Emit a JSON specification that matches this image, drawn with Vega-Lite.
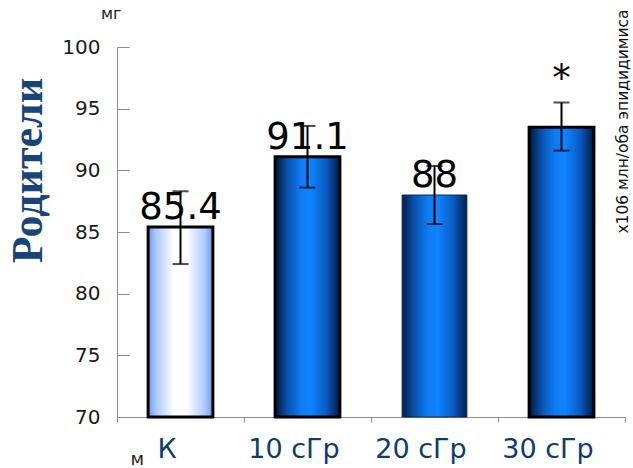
{
  "$schema": "https://vega.github.io/schema/vega-lite/v6.json",
  "autosize": "none",
  "width": 508,
  "height": 370,
  "padding": {"left": 117, "top": 47, "right": 8, "bottom": 51},
  "background": "white",
  "title": {"text": "мг", "anchor": "start", "frame": "group", "dx": -16, "fontSize": 16, "font": "DejaVu Sans", "fontWeight": "normal", "color": "#222222", "offset": 0, "baseline": "alphabetic", "dy": 26},
  "data": {"values": [
    {"g": "К", "v": 85.4, "lo": 82.4, "hi": 88.3, "lab": "85.4"},
    {"g": "10 сГр", "v": 91.1, "lo": 88.6, "hi": 93.6, "lab": "91.1"},
    {"g": "20 сГр", "v": 88.0, "lo": 85.65, "hi": 90.35, "lab": "88"},
    {"g": "30 сГр", "v": 93.5, "lo": 91.6, "hi": 95.5, "lab": "*"}
  ]},
  "encoding": {
    "x": {"field": "g", "type": "nominal", "sort": ["К", "10 сГр", "20 сГр", "30 сГр"],
      "scale": {"paddingInner": 0, "paddingOuter": 0},
      "axis": {"labelAngle": 0, "tickBand": "extent", "tickSize": 5, "labelPadding": 14, "labelOffset": -14,
        "labelFontSize": 27, "labelFont": "DejaVu Sans", "labelColor": "#0d3c6e",
        "domainColor": "#8c8c8c", "tickColor": "#8c8c8c",
        "title": "м", "titleFontSize": 18, "titleFont": "DejaVu Sans", "titleFontWeight": "normal", "titleColor": "#222222",
        "titleX": 13, "titleY": 47, "titleAlign": "left", "titleBaseline": "alphabetic"}}
  },
  "layer": [
    {
      "transform": [{"filter": "datum.g === 'К'"}],
      "mark": {"type": "bar", "width": {"band": 0.51}, "stroke": "black", "strokeWidth": 3,
        "fill": {"gradient": "linear", "x1": 0, "y1": 0, "x2": 1, "y2": 0, "stops": [
          {"offset": 0, "color": "#6f9ae8"}, {"offset": 0.12, "color": "#a9c8ff"}, {"offset": 0.4, "color": "#ffffff"},
          {"offset": 0.6, "color": "#ffffff"}, {"offset": 0.88, "color": "#a9c8ff"}, {"offset": 1, "color": "#6f9ae8"}]}},
      "encoding": {
        "y": {"field": "v", "type": "quantitative", "scale": {"domain": [70, 100], "nice": false, "zero": false},
          "axis": {"values": [70, 75, 80, 85, 90, 95, 100], "grid": false, "ticks": false, "tickSize": 0, "labelPadding": 17,
            "labelFontSize": 20, "labelFont": "DejaVu Sans", "labelColor": "#1a1a1a", "labelBaseline": "middle",
            "domainColor": "#8c8c8c",
            "title": "Родители", "titleFont": "Liberation Serif", "titleFontSize": 44, "titleFontWeight": "bold", "titleColor": "#17457a",
            "titleAngle": 270, "titleX": -76, "titleY": 123, "titleAlign": "center", "titleBaseline": "alphabetic"}},
        "y2": {"datum": 70}
      }
    },
    {
      "transform": [{"filter": "datum.g === '10 сГр' || datum.g === '30 сГр'"}],
      "mark": {"type": "bar", "width": {"band": 0.51}, "stroke": "black", "strokeWidth": 3,
        "fill": {"gradient": "linear", "x1": 0, "y1": 0, "x2": 1, "y2": 0, "stops": [
          {"offset": 0, "color": "#001634"}, {"offset": 0.18, "color": "#0a4fa8"}, {"offset": 0.4, "color": "#0d7cf5"},
          {"offset": 0.55, "color": "#0e84ff"}, {"offset": 0.78, "color": "#0a5cc4"}, {"offset": 1, "color": "#001a40"}]}},
      "encoding": {
        "y": {"field": "v", "type": "quantitative", "axis": null},
        "y2": {"datum": 70}
      }
    },
    {
      "transform": [{"filter": "datum.g === '20 сГр'"}],
      "mark": {"type": "bar", "width": {"band": 0.51}, "stroke": "#0b2d5c", "strokeWidth": 1,
        "fill": {"gradient": "linear", "x1": 0, "y1": 0, "x2": 1, "y2": 0, "stops": [
          {"offset": 0, "color": "#001e4a"}, {"offset": 0.18, "color": "#0a4fa8"}, {"offset": 0.4, "color": "#0d7cf5"},
          {"offset": 0.55, "color": "#0e84ff"}, {"offset": 0.78, "color": "#0a5cc4"}, {"offset": 1, "color": "#00204d"}]}},
      "encoding": {
        "y": {"field": "v", "type": "quantitative", "axis": null},
        "y2": {"datum": 70}
      }
    },
    {
      "mark": {"type": "rule", "color": "black", "strokeWidth": 2},
      "encoding": {
        "y": {"field": "lo", "type": "quantitative",
          "axis": {"orient": "right", "offset": -508, "values": [70, 75, 80, 85, 90, 95, 100], "labels": false, "ticks": true, "tickSize": 12,
            "tickColor": "#8c8c8c", "domain": false, "grid": false,
            "title": "x106 млн/оба эпидидимиса", "titleFont": "DejaVu Sans", "titleFontSize": 15.5, "titleFontWeight": "normal",
            "titleColor": "#111111", "titleAngle": 270, "titleX": 510, "titleY": 74, "titleAlign": "center", "titleBaseline": "alphabetic"}},
        "y2": {"field": "hi"}
      }
    },
    {
      "mark": {"type": "tick", "color": "black", "size": 16, "thickness": 2, "orient": "horizontal"},
      "encoding": {"y": {"field": "lo", "type": "quantitative", "axis": null}}
    },
    {
      "mark": {"type": "tick", "color": "black", "size": 16, "thickness": 2, "orient": "horizontal"},
      "encoding": {"y": {"field": "hi", "type": "quantitative", "axis": null}}
    },
    {
      "transform": [{"filter": "datum.lab !== '*'"}],
      "mark": {"type": "text", "font": "DejaVu Sans", "fontSize": 37, "color": "black", "baseline": "alphabetic", "align": "center", "dy": -8},
      "encoding": {"y": {"field": "v", "type": "quantitative", "axis": null}, "text": {"field": "lab"}}
    },
    {
      "transform": [{"filter": "datum.lab === '*'"}],
      "mark": {"type": "text", "font": "DejaVu Sans", "fontSize": 37, "color": "black", "baseline": "alphabetic", "align": "center", "dy": -12},
      "encoding": {"y": {"field": "hi", "type": "quantitative", "axis": null}, "text": {"field": "lab"}}
    }
  ],
  "resolve": {"axis": {"y": "independent"}},
  "config": {"view": {"stroke": null}}
}
